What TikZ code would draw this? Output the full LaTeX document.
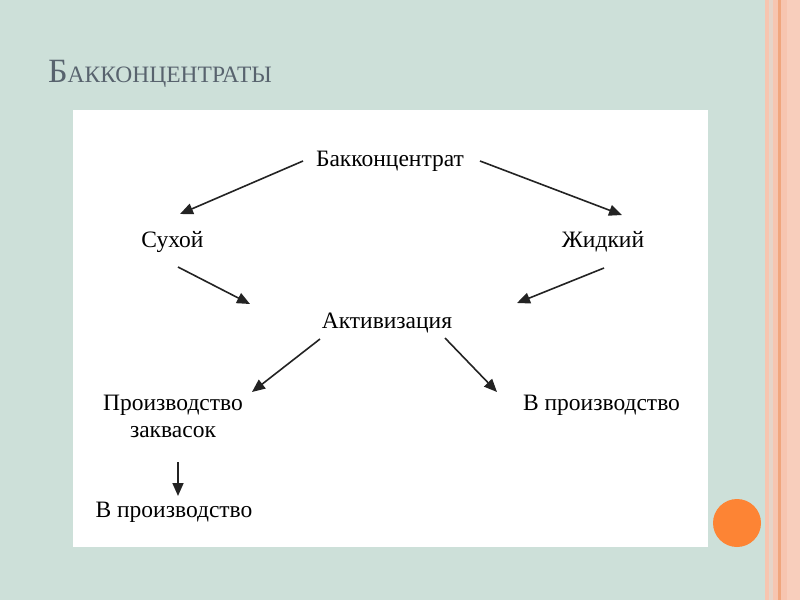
\documentclass[tikz,border=0pt]{standalone}
\usepackage{fontspec}
\setmainfont{Liberation Serif}
\usetikzlibrary{arrows.meta}
\definecolor{bg}{RGB}{205,224,217}
\definecolor{titlec}{RGB}{88,99,110}
\definecolor{salm}{RGB}{247,197,176}
\definecolor{salmd}{RGB}{240,166,126}
\definecolor{pale}{RGB}{230,212,200}
\definecolor{orng}{RGB}{253,132,52}
\definecolor{ink}{RGB}{35,35,35}
\tikzset{
  lbl/.style={anchor=base, inner sep=0pt, text=black, font=\fontsize{23.5}{27}\selectfont},
  arr/.style={draw=ink, line width=1.6pt, -{Triangle[length=13pt,width=11pt]}}
}
\begin{document}
\begin{tikzpicture}[x=1pt,y=-1pt]
\useasboundingbox (0,0) rectangle (800,600);
% background
\fill[bg] (0,0) rectangle (800,600);
\fill[salm] (765,0) rectangle (800,600);
\fill[pale] (769,0) rectangle (773,600);
\fill[salmd] (778,0) rectangle (781,600);
\fill[salm!85!white] (787,0) rectangle (800,600);
% title
\node[anchor=base west, inner sep=0pt, text=titlec] (title) at (48,82)
  {\fontsize{34}{40}\selectfont Б\fontsize{23.5}{30}\selectfont АККОНЦЕНТРАТЫ};
% white panel
\fill[white] (73,110) rectangle (708,547);
% orange circle
\fill[orng] (737,523) circle (24);
% nodes
\node[lbl] (bak) at (390,166) {Бакконцентрат};
\node[lbl] (dry) at (172.5,247) {Сухой};
\node[lbl] (liq) at (603,247) {Жидкий};
\node[lbl] (act) at (387,328) {Активизация};
\node[lbl, align=center] (prod) at (173,437) {Производство\\заквасок};
\node[lbl] (inprod) at (601.5,410) {В производство};
\node[lbl] (inprodb) at (174,517) {В производство};
% connector ends
\coordinate (b1) at (303,161); \coordinate (d1) at (180,214);
\coordinate (b2) at (480,161); \coordinate (l1) at (622,215);
\coordinate (d2) at (178,267); \coordinate (c1) at (250,304);
\coordinate (l2) at (604,268); \coordinate (c2) at (517,303);
\coordinate (c3) at (320,339); \coordinate (p1) at (252,392);
\coordinate (c4) at (445,338); \coordinate (i1) at (497,392);
\coordinate (p2) at (178,462); \coordinate (i2) at (178,496);
\draw[arr] (b1) -- (d1);
\draw[arr] (b2) -- (l1);
\draw[arr] (d2) -- (c1);
\draw[arr] (l2) -- (c2);
\draw[arr] (c3) -- (p1);
\draw[arr] (c4) -- (i1);
\draw[arr] (p2) -- (i2);
\end{tikzpicture}
\end{document}
